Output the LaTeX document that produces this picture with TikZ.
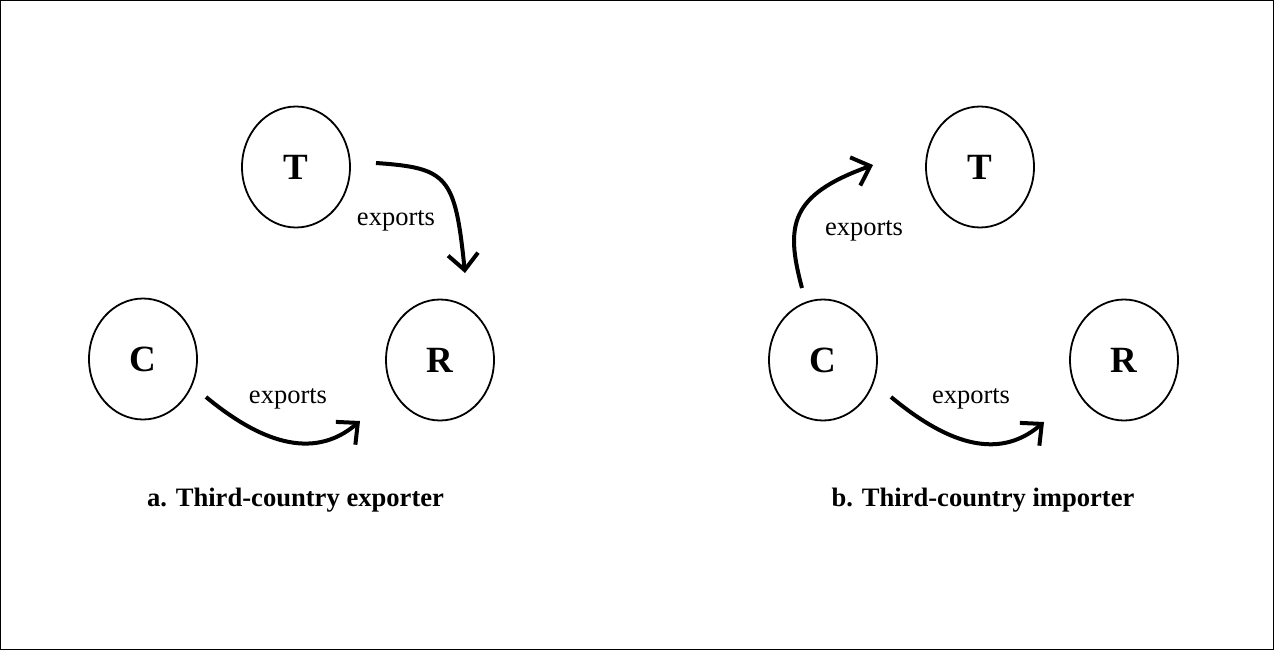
\documentclass[tikz,border=0pt]{standalone}
\usepackage{fontspec}
\setmainfont{Liberation Serif}
\usetikzlibrary{shapes.geometric,arrows.meta}
\tikzset{
  country/.style={draw, ellipse, line width=1.8pt, minimum width=108pt, minimum height=121pt, inner sep=0pt, font=\fontsize{37}{40}\selectfont\bfseries},
  flow/.style={line width=4pt, -{Straight Barb[length=16pt,width=30pt,line width=4pt]}},
  lbl/.style={font=\fontsize{26.5}{28}\selectfont, inner sep=0pt},
  captext/.style={font=\fontsize{26.6}{28}\selectfont\bfseries, inner sep=0pt}
}
\begin{document}
\begin{tikzpicture}[x=1pt,y=-1pt]
\useasboundingbox (0,0) rectangle (1274,650);
\draw[line width=1.3pt] (0.65,0.65) rectangle (1273.35,649.35);
% panel a
\node[country] (aT) at (296,167) {T};
\node[country] (aC) at (143,359) {C};
\node[country] (aR) at (440,360) {R};
\coordinate (a1s) at (376,163);
\coordinate (a1e) at (465,273);
\coordinate (a2s) at (206,397);
\coordinate (a2e) at (360,421);
\draw[flow] (a1s) .. controls (448,168) and (455,176) .. (a1e);
\draw[flow] (a2s) .. controls (258,440) and (312,462) .. (a2e);
\node[lbl] (al1) at (396,221) {exports};
\node[lbl] (al2) at (288,399) {exports};
\node[captext] (acap) at (295.5,500) {a. Third-country exporter};
% panel b
\node[country] (bT) at (980,167) {T};
\node[country] (bC) at (823,360) {C};
\node[country] (bR) at (1124,360) {R};
\coordinate (b1s) at (802,288);
\coordinate (b1e) at (873,165);
\coordinate (b2s) at (891,397);
\coordinate (b2e) at (1044,422);
\draw[flow] (b1s) .. controls (785,225) and (790,195) .. (b1e);
\draw[flow] (b2s) .. controls (943,440) and (996,463) .. (b2e);
\node[lbl] (bl1) at (864,231) {exports};
\node[lbl] (bl2) at (971,399) {exports};
\node[captext] (bcap) at (983,500) {b. Third-country importer};
\end{tikzpicture}
\end{document}
